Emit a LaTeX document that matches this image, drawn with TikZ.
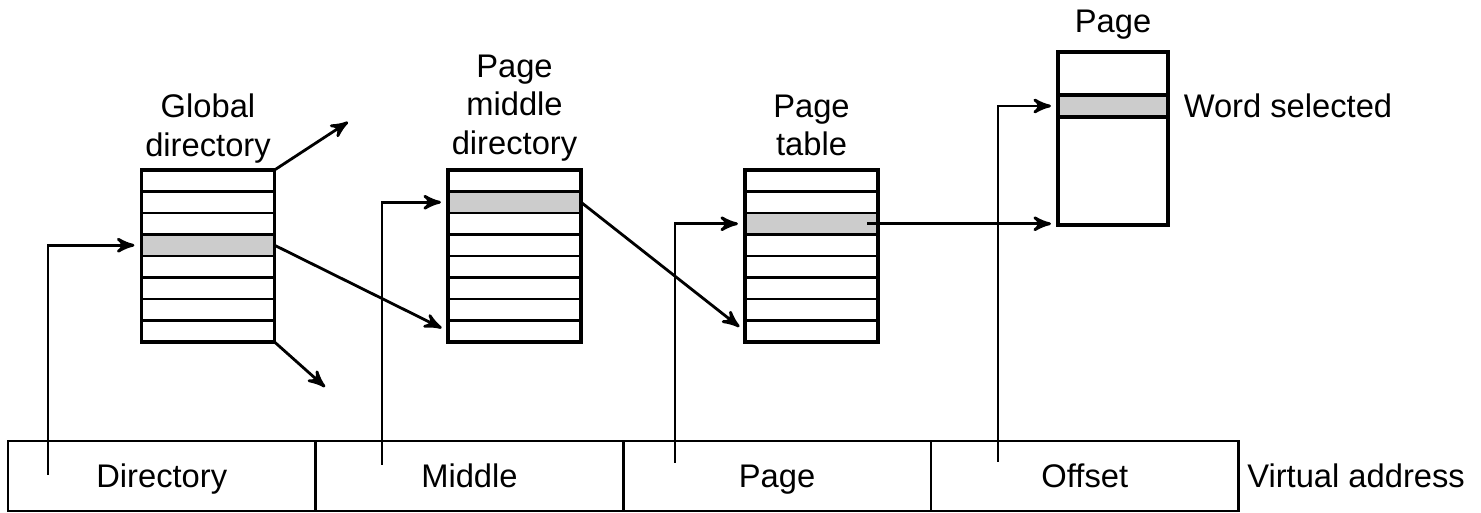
\documentclass[tikz,border=0pt]{standalone}
\usepackage{fontspec}
\setmainfont{Liberation Sans}
\usetikzlibrary{arrows,positioning}
\definecolor{selgray}{RGB}{204,204,204}

% one table of eight entries: name, centre x, top y, selected entry
\newcommand{\entrytable}[4]{%
  \foreach \i in {1,...,8}{
    \ifnum\i=#4\relax\def\rowfill{selgray}\else\def\rowfill{white}\fi
    \node[row, fill=\rowfill] (#1\i) at (#2,{#3+(\i-0.5)*21.5}) {};
  }
  \draw[outline] (#11.north west) rectangle (#18.south east);
}

\begin{document}
\begin{tikzpicture}[x=0.01cm,y=-0.01cm,>=stealth',
	row/.style={draw,line width=0.6pt,minimum width=1.33cm,minimum height=0.215cm,
		inner sep=0pt,outer sep=0pt},
	outline/.style={line width=1pt},
	field/.style={draw,line width=0.7pt,minimum width=3.075cm,minimum height=0.70cm,
		inner sep=0pt,outer sep=0pt,text height=6.7pt,text depth=0pt,
		font=\fontsize{9.3}{11}\selectfont},
	lbl/.style={align=center,inner sep=0pt,font=\fontsize{9.3}{11}\selectfont},
	arr/.style={->,line width=0.8pt,shorten >=2pt}]
\useasboundingbox (0,0) rectangle (1481,513);

% virtual address
\node[field] (dir) at (161.75,476) {Directory};
\node[field, right=0pt of dir] (mid) {Middle};
\node[field, right=0pt of mid] (pg) {Page};
\node[field, right=0pt of pg] (off) {Offset};
\node[lbl, right=0.08cm of off] (va) {Virtual address};

% tables
\entrytable{gd}{208}{170}{4}
\entrytable{md}{514.5}{170}{2}
\entrytable{pt}{811.5}{170}{3}
\node[lbl, above=0.06cm of gd1.north] (gdlbl) {Global\\directory};
\node[lbl, above=0.08cm of md1.north] (mdlbl) {Page\\middle\\directory};
\node[lbl, above=0.13cm of pt1.north] (ptlbl) {Page\\table};

% page
\node[draw,fill=selgray,line width=1pt,minimum width=1.10cm,minimum height=0.22cm,
	inner sep=0pt,outer sep=0pt] (word) at (1113,106) {};
\node[draw,line width=1pt,minimum width=1.10cm,minimum height=1.73cm,
	inner sep=0pt,outer sep=0pt] (page) at (1113,138.5) {};
\node[lbl, above=0.12cm of page.north] (pagelbl) {Page};
\node[lbl, right=0.15cm of word] (wordlbl) {Word selected};

\coordinate (dirpin) at (48,475);
\coordinate (midpin) at (382,465);
\coordinate (pgpin) at (675,463);
\coordinate (offpin) at (998,462);
\coordinate (gdup) at (348,122);
\coordinate (gddown) at (325,387);

\draw[arr] (dirpin) |- (gd4.west);
\draw[arr] (midpin) |- (md2.west);
\draw[arr] (pgpin) |- (pt3.west);
\draw[arr] (offpin) |- (word.west);
\draw[arr] ([xshift=-0.11cm]pt3.east) -- (pt3.east -| page.west);
\draw[arr] (gd4.east) -- (md8.west);
\draw[arr] (md2.east) -- (pt8.west);
\draw[arr,shorten >=0pt] (gd1.north east) -- (gdup);
\draw[arr,shorten >=0pt] (gd8.south east) -- (gddown);
\end{tikzpicture}
\end{document}
